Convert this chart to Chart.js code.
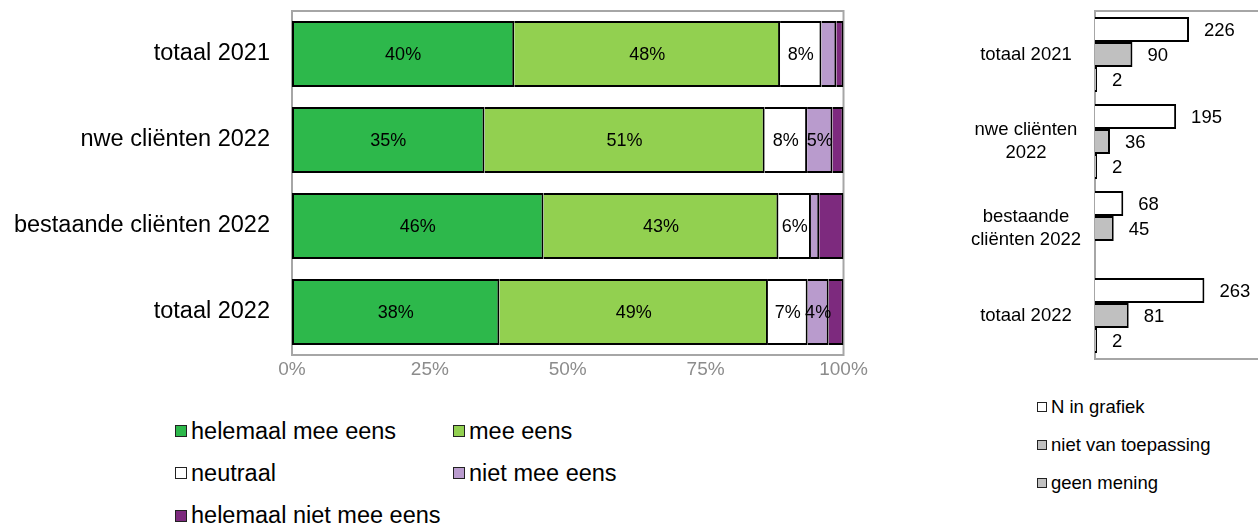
<!DOCTYPE html>
<html><head><meta charset="utf-8">
<script src="https://cdn.jsdelivr.net/npm/chart.js@4.4.1/dist/chart.umd.min.js"></script>
<style>
html,body{margin:0;padding:0;background:#fff;}
#wrap{position:relative;width:1258px;height:527px;overflow:hidden;font-family:"Liberation Sans",Arial,sans-serif;}
#c1{position:absolute;left:0;top:0;}
#c2{position:absolute;left:900px;top:0;}
.item{position:absolute;display:flex;align-items:center;white-space:nowrap;color:#000;}
.box{box-sizing:border-box;border:1.5px solid #222;}
</style></head><body>
<div id="wrap">
 <canvas id="c1" width="900" height="400"></canvas>
 <canvas id="c2" width="370" height="380"></canvas>
 <div id="leg1"></div>
 <div id="leg2"></div>
</div>
<script>
// ---- data: left chart (percentages) ----
const categories = ['totaal 2021', 'nwe cliënten 2022', 'bestaande cliënten 2022', 'totaal 2022'];
const seriesNames = ['helemaal mee eens', 'mee eens', 'neutraal', 'niet mee eens', 'helemaal niet mee eens'];
const helemaalMeeEens = [40.3, 34.9, 45.6, 37.6];
const meeEens = [48.2, 50.8, 42.6, 48.7];
const neutraal = [7.5, 7.7, 5.9, 7.2];
const nietMeeEens = [2.7, 4.6, 1.5, 3.8];
const helemaalNietMeeEens = [1.3, 2.0, 4.4, 2.7];
const xTickLabels = ['0%', '25%', '50%', '75%', '100%'];
// ---- data: right chart (counts) ----
const categories2 = ['totaal 2021', ['nwe cliënten', '2022'], ['bestaande', 'cliënten 2022'], 'totaal 2022'];
const seriesNames2 = ['N in grafiek', 'niet van toepassing', 'geen mening'];
const nInGrafiek = [226, 195, 68, 263];
const nietVanToepassing = [90, 36, 45, 81];
const geenMening = [2, 2, null, 2];

// ---- styles ----
const FONT = '"Liberation Sans", Arial, sans-serif';
const colors1 = ['#2DB84B', '#92D050', '#FFFFFF', '#B99BCD', '#7D2A7E'];
const colors2 = ['#FFFFFF', '#C0C0C0', '#C0C0C0'];
const frameColor = '#a6a6a6';

const seriesData1 = [helemaalMeeEens, meeEens, neutraal, nietMeeEens, helemaalNietMeeEens];
const seriesData2 = [nInGrafiek, nietVanToepassing, geenMening];

const frame1 = {
  id: 'frame1',
  beforeDatasetsDraw(chart) {
    const {ctx, chartArea: a} = chart;
    ctx.save();
    ctx.strokeStyle = frameColor; ctx.lineWidth = 2;
    ctx.strokeRect(a.left, a.top, a.right - a.left, a.bottom - a.top);
    ctx.restore();
  }
};
const labels1 = {
  id: 'labels1',
  afterDatasetsDraw(chart) {
    const ctx = chart.ctx;
    ctx.save();
    ctx.font = '18px ' + FONT; ctx.fillStyle = '#000';
    ctx.textAlign = 'center'; ctx.textBaseline = 'middle';
    chart.data.datasets.forEach((ds, di) => {
      if (di > 3) return;
      chart.getDatasetMeta(di).data.forEach((el, i) => {
        const v = ds.data[i];
        if (v == null || v < 3.5) return;
        const p = el.getProps(['x', 'base', 'y'], true);
        ctx.fillText(Math.round(v) + '%', (p.x + p.base) / 2, p.y + 1);
      });
    });
    ctx.restore();
  }
};

new Chart(document.getElementById('c1'), {
  type: 'bar',
  data: {
    labels: categories,
    datasets: seriesData1.map((d, i) => ({
      label: seriesNames[i], data: d,
      backgroundColor: colors1[i], borderColor: '#000', borderWidth: 2,
      borderSkipped: i === 0 ? false : 'start',
      barPercentage: 0.767, categoryPercentage: 1
    }))
  },
  options: {
    indexAxis: 'y', responsive: false, animation: false,
    layout: {padding: {left: 0, right: 56.5, top: 11, bottom: 0}},
    plugins: {legend: {display: false}, tooltip: {enabled: false}},
    scales: {
      x: {
        stacked: true, min: 0, max: 100,
        grid: {display: false, drawTicks: false}, border: {display: false},
        ticks: {stepSize: 25, color: '#8c8c8c', font: {family: FONT, size: 19}, padding: 3,
          callback: (v, i) => xTickLabels[i]},
        afterFit: s => { s.height = 45; s.paddingLeft = 0; s.paddingRight = 0; }
      },
      y: {
        stacked: true,
        grid: {display: false, drawTicks: false}, border: {display: false},
        ticks: {color: '#000', font: {family: FONT, size: 23.5}, padding: 22},
        afterFit: s => { s.width = 292; s.paddingTop = 0; s.paddingBottom = 0; }
      }
    }
  },
  plugins: [frame1, labels1]
});

const frame2 = {
  id: 'frame2',
  beforeDatasetsDraw(chart) {
    const {ctx, chartArea: a} = chart;
    ctx.save();
    ctx.strokeStyle = frameColor; ctx.lineWidth = 2;
    ctx.beginPath();
    ctx.moveTo(a.right + 20, a.top); ctx.lineTo(a.left, a.top); ctx.lineTo(a.left, a.bottom); ctx.lineTo(a.right + 20, a.bottom);
    ctx.stroke();
    ctx.restore();
  }
};
const labels2 = {
  id: 'labels2',
  afterDatasetsDraw(chart) {
    const ctx = chart.ctx;
    ctx.save();
    ctx.font = '18.5px ' + FONT; ctx.fillStyle = '#000';
    ctx.textAlign = 'left'; ctx.textBaseline = 'middle';
    chart.data.datasets.forEach((ds, di) => {
      chart.getDatasetMeta(di).data.forEach((el, i) => {
        const v = ds.data[i];
        if (v == null) return;
        const p = el.getProps(['x', 'y'], true);
        ctx.fillText(String(v), p.x + 15, p.y + 1);
      });
    });
    ctx.restore();
  }
};

new Chart(document.getElementById('c2'), {
  type: 'bar',
  data: {
    labels: categories2,
    datasets: seriesData2.map((d, i) => ({
      label: seriesNames2[i], data: d,
      backgroundColor: colors2[i], borderColor: '#000', borderWidth: 2,
      borderSkipped: 'start', minBarLength: 2,
      barPercentage: 1, categoryPercentage: 0.862
    }))
  },
  options: {
    indexAxis: 'y', responsive: false, animation: false,
    layout: {padding: {left: 0, right: 8.6, top: 11, bottom: 21}},
    plugins: {legend: {display: false}, tooltip: {enabled: false}},
    scales: {
      x: {display: false, min: 0, max: 400},
      y: {
        grid: {display: false, drawTicks: false}, border: {display: false},
        ticks: {color: '#000', font: {family: FONT, size: 18.5, lineHeight: 1.25}, padding: 14, crossAlign: 'center'},
        afterFit: s => { s.width = 195; s.paddingTop = 0; s.paddingBottom = 0; }
      }
    }
  },
  plugins: [frame2, labels2]
});

// ---- HTML legends built from the series arrays ----
function legend(el, names, cols, opts) {
  names.forEach((n, i) => {
    const pos = opts.pos(i);
    const d = document.createElement('div');
    d.className = 'item';
    d.style.left = pos.x + 'px';
    d.style.top = (pos.y - opts.lh / 2) + 'px';
    d.style.height = opts.lh + 'px';
    d.style.fontSize = opts.fs + 'px';
    const b = document.createElement('span');
    b.className = 'box';
    b.style.width = opts.box + 'px'; b.style.height = opts.box + 'px';
    b.style.background = cols[i];
    b.style.marginRight = opts.gap + 'px';
    const t = document.createElement('span');
    t.textContent = n;
    d.appendChild(b); d.appendChild(t);
    el.appendChild(d);
  });
}
legend(document.getElementById('leg1'), seriesNames, colors1,
  {fs: 23.5, lh: 28, box: 12, gap: 4, pos: i => ({x: 175 + (i % 2) * 278, y: 431 + Math.floor(i / 2) * 42.3})});
legend(document.getElementById('leg2'), seriesNames2, colors2,
  {fs: 18.5, lh: 24, box: 10, gap: 4, pos: i => ({x: 1037, y: 407 + i * 38})});
</script>
</body></html>
